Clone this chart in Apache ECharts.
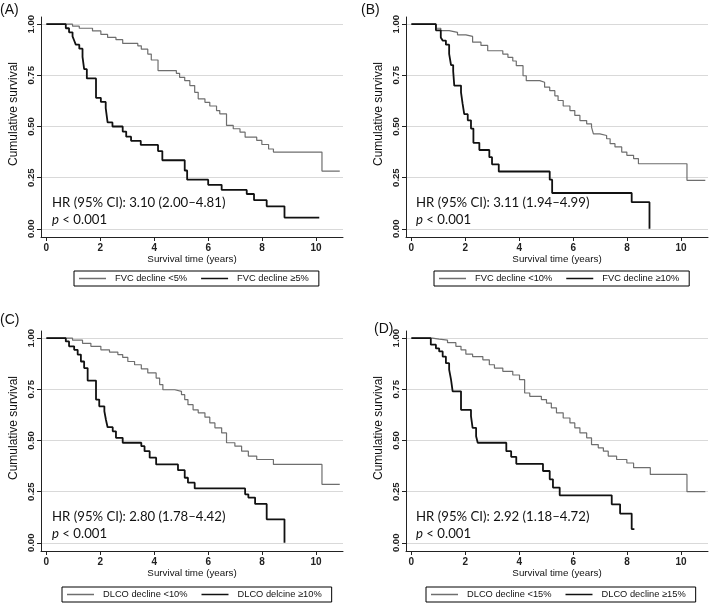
<!DOCTYPE html>
<html><head><meta charset="utf-8">
<script src="https://cdn.jsdelivr.net/npm/echarts@6/dist/echarts.min.js"></script>
<style>html,body{margin:0;padding:0;background:#fff}#c{width:709px;height:605px}</style>
</head><body><div id="c"></div>
<script>
// ---- data ----
const xTicks = [0, 2, 4, 6, 8, 10];
const yTicks = [0, 0.25, 0.5, 0.75, 1];
const panelLabels = ['(A)', '(B)', '(C)', '(D)'];
const hrTexts = [
  'HR (95% CI): 3.10 (2.00\u20134.81)',
  'HR (95% CI): 3.11 (1.94\u20134.99)',
  'HR (95% CI): 2.80 (1.78\u20134.42)',
  'HR (95% CI): 2.92 (1.18\u20134.72)'
];
const pText = '< 0.001';
const namesLow = ['FVC decline <5%', 'FVC decline <10%', 'DLCO decline <10%', 'DLCO decline <15%'];
const namesHigh = ['FVC decline \u22655%', 'FVC decline \u226510%', 'DLCO delcine \u226510%', 'DLCO decline \u226515%'];
const xName = 'Survival time (years)';
const yName = 'Cumulative survival';

const lowA = [[0,1],[0.97,0.99],[1.22,0.98],[1.71,0.967],[2.02,0.95],[2.27,0.935],[2.58,0.924],[2.83,0.906],[3.39,0.894],[3.52,0.878],[3.76,0.854],[3.89,0.825],[4.14,0.773],[4.82,0.76],[4.94,0.74],[5.13,0.724],[5.32,0.70],[5.50,0.667],[5.63,0.635],[5.88,0.618],[6.06,0.60],[6.31,0.578],[6.43,0.562],[6.68,0.505],[6.93,0.489],[7.18,0.472],[7.37,0.448],[7.80,0.432],[7.99,0.412],[8.24,0.39],[8.42,0.375],[10.22,0.282],[10.88,0.282]];
const highA = [[0,1],[0.72,0.98],[0.84,0.96],[0.97,0.94],[1.03,0.92],[1.09,0.90],[1.22,0.88],[1.34,0.84],[1.40,0.78],[1.50,0.735],[1.84,0.64],[2.02,0.62],[2.20,0.59],[2.27,0.52],[2.45,0.50],[2.83,0.475],[2.96,0.45],[3.14,0.43],[3.50,0.41],[4.14,0.38],[4.30,0.335],[5.13,0.285],[5.22,0.24],[6.00,0.215],[6.50,0.19],[7.43,0.17],[7.70,0.14],[8.17,0.11],[8.83,0.055],[10.12,0.055]];
const lowB = [[0,1],[0.91,0.98],[1.09,0.968],[1.40,0.96],[1.71,0.948],[2.02,0.94],[2.27,0.912],[2.58,0.896],[2.83,0.87],[3.39,0.854],[3.58,0.838],[3.76,0.82],[3.89,0.797],[4.14,0.748],[4.26,0.724],[4.76,0.716],[4.94,0.692],[5.13,0.675],[5.32,0.65],[5.44,0.627],[5.63,0.60],[5.88,0.578],[6.06,0.554],[6.25,0.529],[6.50,0.513],[6.68,0.497],[6.75,0.464],[6.99,0.456],[7.24,0.44],[7.37,0.416],[7.55,0.40],[7.80,0.375],[7.99,0.359],[8.24,0.343],[8.42,0.318],[10.22,0.237],[10.90,0.237]];
const highB = [[0,1],[0.91,0.97],[1.09,0.935],[1.16,0.92],[1.28,0.90],[1.40,0.855],[1.47,0.80],[1.55,0.77],[1.59,0.70],[1.84,0.667],[1.90,0.61],[1.96,0.56],[2.09,0.53],[2.21,0.49],[2.30,0.42],[2.52,0.385],[2.89,0.35],[2.99,0.315],[3.24,0.28],[5.13,0.24],[5.22,0.175],[8.17,0.13],[8.83,0.0]];
const lowC = [[0,1],[0.97,0.99],[1.34,0.975],[1.65,0.96],[2.02,0.943],[2.34,0.932],[2.65,0.92],[2.83,0.906],[3.02,0.886],[3.27,0.87],[3.52,0.85],[3.76,0.83],[4.07,0.805],[4.20,0.773],[4.32,0.748],[4.76,0.74],[5.01,0.724],[5.13,0.70],[5.25,0.675],[5.44,0.65],[5.63,0.635],[5.88,0.614],[6.06,0.586],[6.25,0.562],[6.50,0.537],[6.68,0.489],[6.99,0.472],[7.24,0.448],[7.49,0.424],[7.80,0.407],[8.42,0.383],[10.22,0.286],[10.88,0.286]];
const highC = [[0,1],[0.72,0.984],[0.84,0.96],[1.03,0.943],[1.16,0.92],[1.28,0.886],[1.40,0.854],[1.53,0.793],[1.84,0.70],[1.96,0.667],[2.15,0.643],[2.21,0.60],[2.27,0.565],[2.46,0.545],[2.58,0.513],[2.83,0.489],[3.52,0.472],[3.64,0.448],[3.83,0.416],[4.07,0.383],[4.88,0.355],[5.13,0.318],[5.25,0.294],[5.50,0.266],[7.37,0.237],[7.49,0.221],[7.74,0.19],[8.17,0.115],[8.83,0.0]];
const lowD = [[0,1],[0.78,0.995],[1.03,0.99],[1.34,0.978],[1.65,0.96],[1.84,0.943],[2.02,0.922],[2.27,0.91],[2.65,0.894],[2.89,0.87],[3.08,0.854],[3.39,0.838],[3.76,0.82],[4.01,0.797],[4.20,0.732],[4.39,0.716],[4.82,0.70],[5.01,0.683],[5.19,0.659],[5.38,0.635],[5.63,0.61],[5.88,0.586],[6.06,0.562],[6.25,0.537],[6.50,0.513],[6.68,0.48],[6.93,0.464],[7.12,0.448],[7.30,0.424],[7.61,0.407],[7.99,0.39],[8.24,0.367],[8.86,0.334],[10.22,0.25],[10.90,0.25]];
const highD = [[0,1],[0.72,0.968],[0.91,0.95],[1.03,0.935],[1.16,0.91],[1.28,0.878],[1.40,0.846],[1.47,0.797],[1.53,0.74],[1.84,0.65],[2.21,0.619],[2.27,0.562],[2.40,0.521],[2.46,0.489],[3.52,0.448],[3.70,0.42],[3.89,0.386],[4.88,0.351],[5.13,0.31],[5.25,0.27],[5.50,0.232],[7.43,0.188],[7.74,0.143],[8.17,0.067],[8.27,0.067]];

const lowData = [lowA, lowB, lowC, lowD];
const highData = [highA, highB, highC, highD];

// ---- font detection (narrow sans if available) ----
function hasFont(name) {
  const ctx = document.createElement('canvas').getContext('2d');
  const s = 'Survival time abcdefgWM';
  ctx.font = '20px monospace';
  const a = ctx.measureText(s).width;
  ctx.font = '20px "' + name + '", monospace';
  return ctx.measureText(s).width !== a;
}
const narrowName = hasFont('Liberation Sans Narrow') ? 'Liberation Sans Narrow' : (hasFont('Arial Narrow') ? 'Arial Narrow' : null);
const axisFont = narrowName ? '"' + narrowName + '", sans-serif' : '"Liberation Sans", Arial, sans-serif';
const fsSmall = narrowName ? 11 : 9.3;
const fsTick = narrowName ? 11 : 10;
const textFont = 'Lato, "Open Sans", sans-serif';

// ---- layout ----
const gridPos = [
  {left: 41, top: 17}, {left: 406, top: 17},
  {left: 41, top: 331}, {left: 406, top: 331}
];
const legendPos = [
  {left: 74, top: 271}, {left: 434, top: 271},
  {left: 62, top: 587}, {left: 426, top: 587}
];
const labelPos = [[0, 3], [361, 3], [0, 313], [374, 322]];
const hrPos = [[52, 194], [416, 194], [52, 508], [416, 508]];

const grids = [], xAxes = [], yAxes = [], series = [], legends = [], graphics = [];
for (let i = 0; i < 4; i++) {
  grids.push({left: gridPos[i].left, top: gridPos[i].top, width: 302, height: 220, containLabel: false});
  xAxes.push({
    type: 'value', gridIndex: i, min: -0.2, max: 11,
    name: xName, nameLocation: 'middle', nameGap: 17,
    nameTextStyle: {fontFamily: axisFont, fontSize: fsSmall + 0.5, color: '#111'},
    axisLine: {show: true, onZero: false, lineStyle: {color: '#222', width: 1}},
    axisTick: {show: true, length: 4, customValues: xTicks, lineStyle: {color: '#222'}},
    axisLabel: {customValues: xTicks, fontFamily: axisFont, fontSize: fsTick, fontWeight: 'bold', color: '#222', margin: 6},
    splitLine: {show: false}
  });
  yAxes.push({
    type: 'value', gridIndex: i, min: -0.04, max: 1.035,
    name: yName, nameLocation: 'middle', nameGap: 21,
    nameTextStyle: {fontFamily: '"Liberation Sans", Arial, sans-serif', fontSize: 12, color: '#111', padding: [0, 0, 0, 26]},
    axisLine: {show: true, onZero: false, lineStyle: {color: '#222', width: 1}},
    axisTick: {show: true, length: 4, customValues: yTicks, lineStyle: {color: '#222'}},
    axisLabel: {customValues: yTicks, rotate: 90, fontFamily: '"Liberation Sans", Arial, sans-serif', fontSize: 9.5, fontWeight: 'bold', color: '#222', margin: 5,
      formatter: v => v.toFixed(2)},
    splitLine: {show: true, lineStyle: {color: '#d9d9d9', width: 1}}
  });
  series.push({
    name: namesLow[i], type: 'line', xAxisIndex: i, yAxisIndex: i, step: 'end',
    symbol: 'none', data: lowData[i], lineStyle: {color: '#6e6e6e', width: 1.2}, itemStyle: {color: '#6e6e6e'},
    silent: true, animation: false
  });
  series.push({
    name: namesHigh[i], type: 'line', xAxisIndex: i, yAxisIndex: i, step: 'end',
    symbol: 'none', data: highData[i], lineStyle: {color: '#111', width: 1.8}, itemStyle: {color: '#111'},
    silent: true, animation: false
  });
  legends.push({
    data: [namesLow[i], namesHigh[i]], left: legendPos[i].left, top: legendPos[i].top,
    orient: 'horizontal', borderColor: '#000', borderWidth: 1, padding: [3, 10, 3, 5],
    itemGap: 14, itemWidth: 27, itemHeight: 1.5, icon: 'rect', selectedMode: false,
    textStyle: {fontFamily: axisFont, fontSize: fsSmall, color: '#111', padding: [0, 0, 0, 4]}
  });
  graphics.push({type: 'text', left: labelPos[i][0], top: labelPos[i][1],
    style: {text: panelLabels[i], font: '14px "Liberation Sans", Arial, sans-serif', fill: '#111'}});
  graphics.push({type: 'text', left: hrPos[i][0], top: hrPos[i][1],
    style: {text: hrTexts[i] + '\n{i|p} ' + pText, fontFamily: textFont, fontSize: 13.2, lineHeight: 17, fill: '#111',
      rich: {i: {fontStyle: 'italic', fontFamily: textFont, fontSize: 13.2, lineHeight: 17}}}});
}

const chart = echarts.init(document.getElementById('c'), null, {renderer: 'canvas'});
chart.setOption({
  backgroundColor: '#fff', animation: false,
  grid: grids, xAxis: xAxes, yAxis: yAxes, series: series, legend: legends, graphic: graphics
});
</script></body></html>
